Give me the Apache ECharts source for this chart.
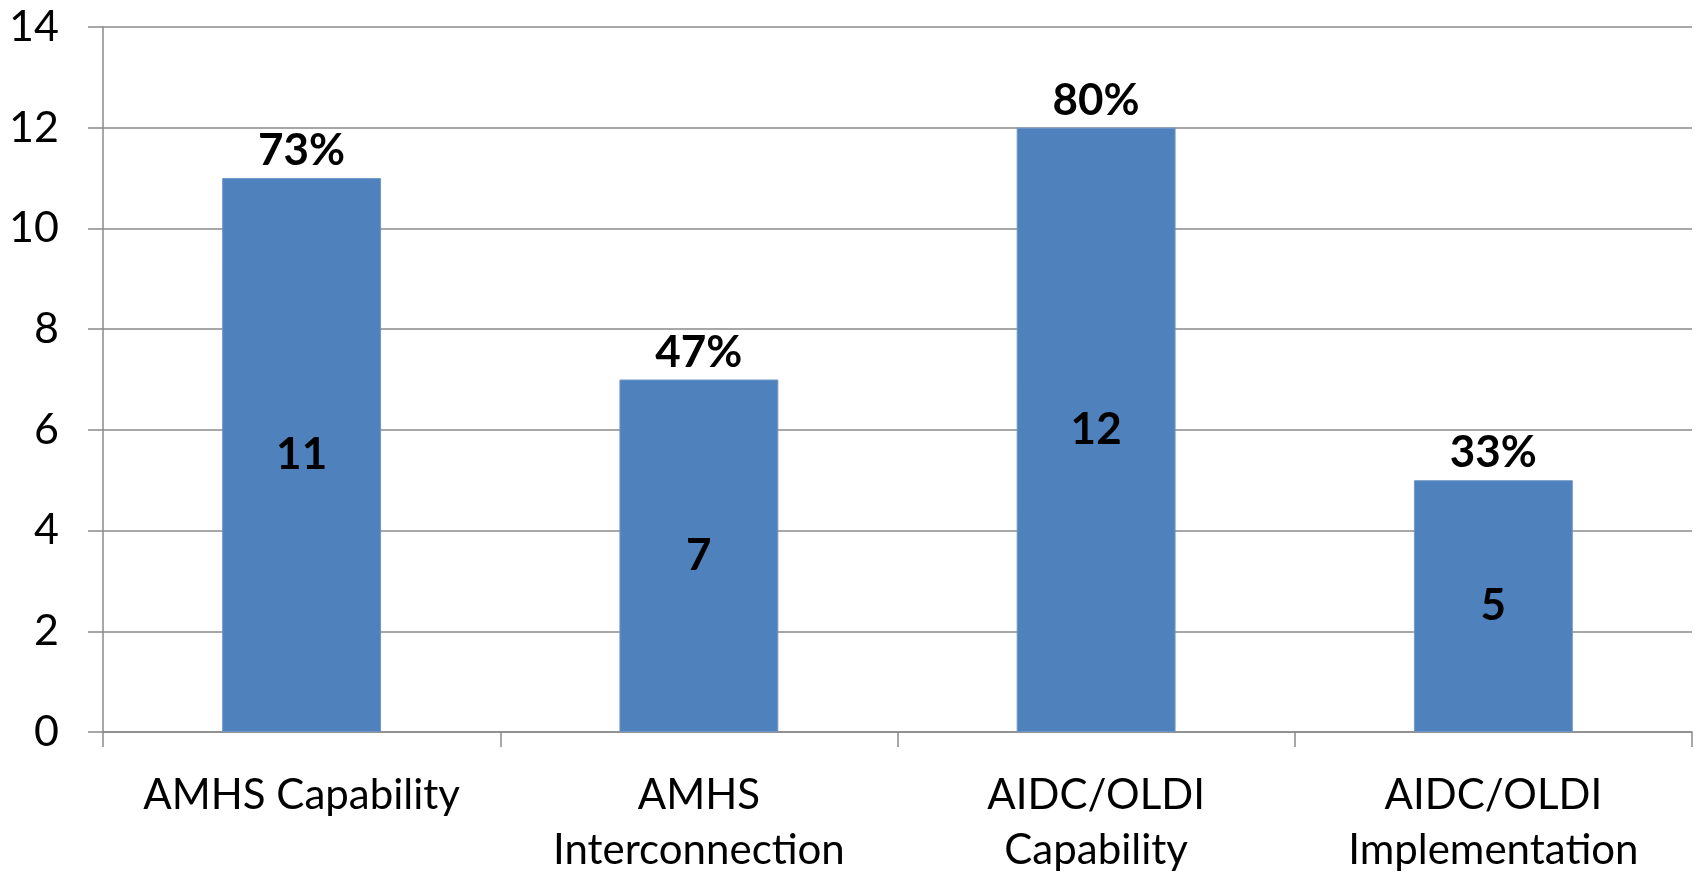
<!DOCTYPE html>
<html>
<head>
<meta charset="utf-8">
<script src="https://cdn.jsdelivr.net/npm/echarts@6/dist/echarts.min.js"></script>
<style>
  html, body { margin: 0; padding: 0; background: #fff; }
  #chart { width: 1696px; height: 878px; }
</style>
</head>
<body>
<div id="chart"></div>
<script>
// Categories, counts and share labels
const categories = ['AMHS Capability', 'AMHS\nInterconnection', 'AIDC/OLDI\nCapability', 'AIDC/OLDI\nImplementation'];
const counts = [11, 7, 12, 5];
const shareLabels = ['73%', '47%', '80%', '33%'];
const yTicks = { min: 0, max: 14, interval: 2 };

const FONT = 'Lato, "Open Sans", sans-serif';
const GRID_GRAY = '#8a8a8a';

const chart = echarts.init(document.getElementById('chart'), null, { renderer: 'canvas' });

chart.setOption({
  animation: false,
  backgroundColor: '#ffffff',
  grid: { left: 103, right: 4, top: 27, bottom: 144, containLabel: false },
  xAxis: {
    type: 'category',
    data: categories,
    axisLine: { show: true, lineStyle: { color: GRID_GRAY, width: 1.5 } },
    axisTick: { show: true, alignWithLabel: false, length: 15, lineStyle: { color: GRID_GRAY, width: 1.5 } },
    axisLabel: {
      interval: 0,
      margin: 36,
      color: '#000',
      fontFamily: FONT,
      fontSize: 42,
      lineHeight: 55
    }
  },
  yAxis: {
    type: 'value',
    min: yTicks.min,
    max: yTicks.max,
    interval: yTicks.interval,
    axisLine: { show: true, lineStyle: { color: GRID_GRAY, width: 1.5 } },
    axisTick: { show: true, length: 15, lineStyle: { color: GRID_GRAY, width: 1.5 } },
    splitLine: { show: true, lineStyle: { color: GRID_GRAY, width: 1.5 } },
    axisLabel: {
      margin: 44,
      color: '#000',
      fontFamily: FONT,
      fontSize: 43
    }
  },
  series: [
    {
      type: 'bar',
      data: counts,
      barWidth: '40%',
      itemStyle: { color: '#4F81BD', borderColor: '#6f97c9', borderWidth: 1 },
      label: {
        show: true,
        position: 'inside',
        color: '#000',
        fontFamily: FONT,
        fontWeight: 'bold',
        fontSize: 44
      }
    },
    {
      // percentage labels sitting on top of each bar
      type: 'bar',
      data: counts,
      barWidth: '40%',
      barGap: '-100%',
      itemStyle: { color: 'transparent' },
      silent: true,
      label: {
        show: true,
        position: 'top',
        distance: 5,
        color: '#000',
        fontFamily: FONT,
        fontWeight: 'bold',
        fontSize: 44,
        formatter: p => shareLabels[p.dataIndex]
      }
    }
  ]
});
</script>
</body>
</html>
